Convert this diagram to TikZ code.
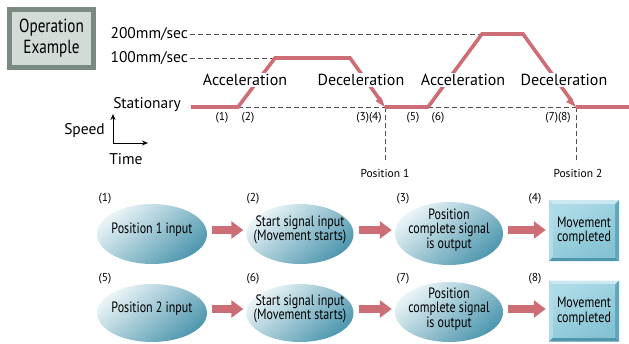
\documentclass[tikz,border=0pt]{standalone}
\usepackage{fontspec}
\setmainfont{PT Sans}
\newfontfamily\condfont[FakeStretch=0.8]{PT Sans}
\usetikzlibrary{arrows.meta,shapes.geometric,calc}
\definecolor{prof}{HTML}{CD6D75}
\definecolor{dashc}{HTML}{505050}
\definecolor{opout}{HTML}{7B8A80}
\definecolor{opin}{HTML}{D3DBD7}
\definecolor{ellL}{HTML}{EAF4F7}
\definecolor{ellD}{HTML}{4E97AE}
\definecolor{bxTop}{HTML}{CBE8F0}
\definecolor{bxLeft}{HTML}{B2DDE8}
\definecolor{bxRight}{HTML}{5FA7BC}
\definecolor{bxBot}{HTML}{4F97AD}
\definecolor{bxFaceL}{HTML}{ACDAE6}
\definecolor{bxFaceD}{HTML}{85C3D4}
\tikzset{
  chartlbl/.style={font=\fontsize{16}{16}\selectfont, fill=white, inner sep=1pt},
  sidelbl/.style={font=\fontsize{15.5}{15.5}\selectfont, inner sep=0pt},
  numlbl/.style={font=\fontsize{11.5}{11.5}\selectfont, inner sep=0pt},
  poslbl/.style={font=\fontsize{11.5}{11.5}\selectfont, inner sep=0pt},
  dashln/.style={dashc, dash pattern=on 5pt off 3pt, line width=0.8pt},
  profile/.style={prof, line width=3.6pt, line join=miter},
  stepell/.style={ellipse, inner sep=0pt,
    top color=ellL, bottom color=ellD, shading angle=40},
  steptext/.style={align=center, inner sep=0pt,
    font=\condfont\fontsize{15}{14.5}\selectfont},
  blockarrow/.style={prof, line width=8pt, shorten <=5pt, shorten >=3pt,
    -{Triangle[length=12pt,width=17pt]}},
  donebox/.style={minimum width=70pt, minimum height=61pt, inner sep=0pt, align=center,
    font=\condfont\fontsize{15}{14.5}\selectfont}
}
\newcommand{\bevelbox}[2]{%
  \path #2 coordinate (#1c);
  \fill[bxTop] ($(#1c)+(-35,-30.5)$) -- ($(#1c)+(35,-30.5)$) -- ($(#1c)+(31,-26.5)$) -- ($(#1c)+(-31,-26.5)$) -- cycle;
  \fill[bxLeft] ($(#1c)+(-35,-30.5)$) -- ($(#1c)+(-31,-26.5)$) -- ($(#1c)+(-31,26.5)$) -- ($(#1c)+(-35,30.5)$) -- cycle;
  \fill[bxRight] ($(#1c)+(35,-30.5)$) -- ($(#1c)+(35,30.5)$) -- ($(#1c)+(31,26.5)$) -- ($(#1c)+(31,-26.5)$) -- cycle;
  \fill[bxBot] ($(#1c)+(-35,30.5)$) -- ($(#1c)+(35,30.5)$) -- ($(#1c)+(31,26.5)$) -- ($(#1c)+(-31,26.5)$) -- cycle;
  \shade[top color=bxFaceL, bottom color=bxFaceD, shading angle=30] ($(#1c)+(-31,-26.5)$) rectangle ($(#1c)+(31,26.5)$);
}
\begin{document}
\begin{tikzpicture}[x=1pt,y=-1pt]
\useasboundingbox (0,0) rectangle (629,343);
% Operation example box
\fill[opout] (7,7) rectangle (96,70);
\fill[opin] (12,12) rectangle (91,65);
\node[align=center, inner sep=0pt, font=\condfont\fontsize{19}{21}\selectfont] (op) at (51.5,38.5) {Operation\\Example};

% profile coordinates
\coordinate (s0) at (191,107);
\coordinate (p1) at (238,107);
\coordinate (p2) at (275,58);
\coordinate (p3) at (350,58);
\coordinate (p4) at (385,107);
\coordinate (p5) at (428,107);
\coordinate (p6) at (482,34);
\coordinate (p7) at (523,34);
\coordinate (p8) at (576,107);
\coordinate (s9) at (629,107);
\coordinate (v200) at (190,34);
\coordinate (v100) at (190,58);
\coordinate (q1) at (385,163);
\coordinate (q2) at (576,163);

% dashed guides
\draw[dashln] (v200) -- (p6);
\draw[dashln] (v100) -- (p2);
\draw[dashln] (p1) -- (p4);
\draw[dashln] (p5) -- (p8);
\draw[dashln] (p4) -- (q1);
\draw[dashln] (p8) -- (q2);

% speed profile
\draw[profile] (s0) -- (p1) -- (p2) -- (p3) -- ($(p3)!0.9!(p4)$);
\fill[prof] (p4) -- ++(-9.5,-6) -- ++(5.5,-4) -- cycle;
\draw[profile] (p4) -- (p5) -- (p6) -- (p7) -- ($(p7)!0.92!(p8)$);
\fill[prof] (p8) -- ++(-10,-5) -- ++(5.5,-4.5) -- cycle;
\draw[profile] (p8) -- (s9);

% chart labels
\node[chartlbl] (acc1) at (245,80) {Acceleration};
\node[chartlbl] (dec1) at (361,80) {Deceleration};
\node[chartlbl] (acc2) at (463,80) {Acceleration};
\node[chartlbl] (dec2) at (564,80) {Deceleration};
\node[sidelbl, anchor=east] (l200) at (188,34) {200mm/sec};
\node[sidelbl, anchor=east] (l100) at (188,58) {100mm/sec};
\node[sidelbl, anchor=east] (stat) at (181,105) {Stationary};
\node[numlbl] (n1) at (222,118) {(1)};
\node[numlbl] (n2) at (248,118) {(2)};
\node[numlbl] (n34) at (369,118) {(3)(4)};
\node[numlbl] (n5) at (413,118) {(5)};
\node[numlbl] (n6) at (438,118) {(6)};
\node[numlbl] (n78) at (558,118) {(7)(8)};
\node[poslbl] (pos1) at (385,173) {Position 1};
\node[poslbl] (pos2) at (578,173) {Position 2};

% speed/time axes
\coordinate (ax0) at (113,143);
\coordinate (axU) at (113,114);
\coordinate (axR) at (148,143);
\draw[line width=1pt, -{Stealth[length=6pt,width=5pt]}] (ax0) -- (axU);
\draw[line width=1pt, -{Stealth[length=6pt,width=5pt]}] (ax0) -- (axR);
\node[sidelbl, anchor=east] (speed) at (105,131) {Speed};
\node[sidelbl] (time) at (126,159) {Time};

% flow row 1
\node[stepell, minimum width=110pt, minimum height=60pt] (e1) at (152,234) {};
\node[stepell, minimum width=107pt, minimum height=60pt] (e2) at (300,234) {};
\node[stepell, minimum width=108pt, minimum height=63pt] (e3) at (449,233.5) {};
\node[steptext] (t1) at (152,230) {Position 1 input};
\node[steptext] (t2) at (300,230) {Start signal input\\(Movement starts)};
\node[steptext] (t3) at (449,230) {Position\\complete signal\\is output};
\bevelbox{b4}{(584,230.5)}
\node[donebox] (e4) at (584,230.5) {Movement\\completed};
\draw[blockarrow] (e1.east |- 0,230) -- (e2.west |- 0,230);
\draw[blockarrow] (e2.east |- 0,230) -- (e3.west |- 0,230);
\draw[blockarrow] (e3.east |- 0,230) -- (e4.west |- 0,230);

% flow row 2
\node[stepell, minimum width=110pt, minimum height=58pt] (e5) at (152,313) {};
\node[stepell, minimum width=107pt, minimum height=58pt] (e6) at (300,313) {};
\node[stepell, minimum width=108pt, minimum height=60pt] (e7) at (449,312) {};
\node[steptext] (t5) at (152,309) {Position 2 input};
\node[steptext] (t6) at (300,309) {Start signal input\\(Movement starts)};
\node[steptext] (t7) at (449,309) {Position\\complete signal\\is output};
\bevelbox{b8}{(584,311)}
\node[donebox] (e8) at (584,311) {Movement\\completed};
\draw[blockarrow] (e5.east |- 0,309) -- (e6.west |- 0,309);
\draw[blockarrow] (e6.east |- 0,309) -- (e7.west |- 0,309);
\draw[blockarrow] (e7.east |- 0,309) -- (e8.west |- 0,309);

% step numbers
\node[numlbl] (k1) at (105,199) {(1)};
\node[numlbl] (k2) at (253,199) {(2)};
\node[numlbl] (k3) at (403,199) {(3)};
\node[numlbl] (k4) at (535,199) {(4)};
\node[numlbl] (k5) at (105,279) {(5)};
\node[numlbl] (k6) at (253,279) {(6)};
\node[numlbl] (k7) at (403,279) {(7)};
\node[numlbl] (k8) at (535,279) {(8)};
\end{tikzpicture}
\end{document}
